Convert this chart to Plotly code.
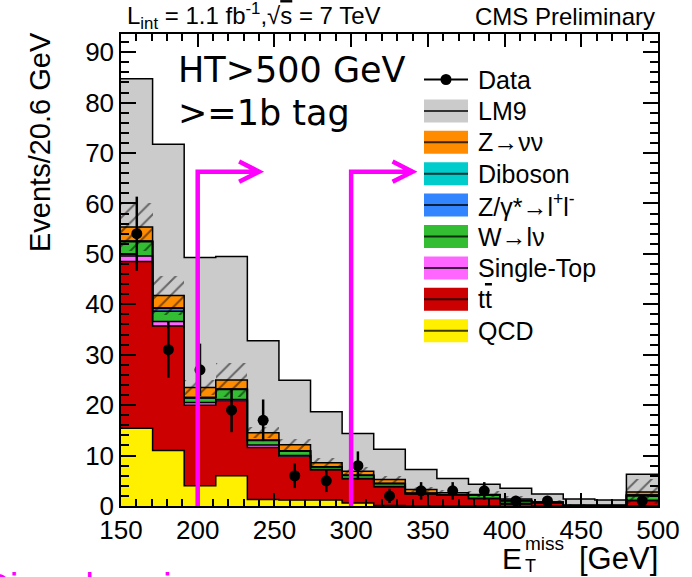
import numpy as np
import plotly.graph_objects as go

# ---- binning: 17 bins of 20.6 GeV between 150 and 500 GeV ----
met_min, met_max, n_bins = 150.0, 500.0, 17

# ---- stacked Standard Model backgrounds (events per bin) ----
qcd        = [15.4, 11.0, 4.0, 6.0, 1.3, 1.2, 1.2, 0.6, 0.1, 0.0, 0.0, 0.0, 0.2, 0.0, 0.0, 0.0, 0.0]
ttbar      = [33.1, 24.7, 16.0, 14.8, 10.3, 8.7, 6.0, 4.8, 3.7, 2.4, 2.2, 1.5, 0.3, 0.7, 0.1, 0.1, 1.1]
single_top = [1.1, 0.9, 0.5, 0.3, 0.5, 0.1, 0.05, 0.05, 0.05, 0.05, 0.0, 0.0, 0.0, 0.0, 0.0, 0.0, 0.0]
w_lnu      = [2.8, 2.0, 0.9, 2.0, 0.9, 0.9, 0.55, 0.6, 0.6, 0.1, 0.05, 0.7, 0.5, 0.0, 0.0, 0.0, 0.9]
z_ll       = [0.1, 0.6, 0.1, 0.05, 0.05, 0.0, 0.0, 0.05, 0.0, 0.0, 0.0, 0.0, 0.1, 0.0, 0.0, 0.0, 0.2]
diboson    = [0.05, 0.05, 0.0, 0.05, 0.0, 0.05, 0.0, 0.0, 0.0, 0.0, 0.0, 0.0, 0.0, 0.0, 0.0, 0.0, 0.0]
z_nunu     = [2.8, 2.5, 2.0, 1.8, 1.5, 1.2, 0.8, 0.8, 0.8, 0.7, 0.4, 0.1, 0.3, 0.1, 0.0, 0.0, 0.6]

# ---- LM9 signal stacked on top of the SM total ----
lm9 = [29.4, 30.0, 25.8, 24.5, 18.2, 12.8, 10.1, 7.5, 6.0, 4.0, 2.8, 2.0, 2.1, 1.6, 1.3, 1.1, 3.5]

# ---- uncertainty on the SM total ----
sm_unc = [4.8, 3.8, 1.5, 3.4, 1.1, 1.1, 1.0, 0.9, 0.7, 0.5, 0.5, 0.6, 0.5, 0.4, 0.3, 0.3, 2.5]

# ---- observed data ----
data = [54, 31, 27, 19, 17, 6, 5, 8, 2, 3, 3, 3, 1, 1, 0, 0, 1]

# ---- signal-region cuts on MET (GeV) ----
met_cuts = [200, 300]

components = [
    ("QCD", qcd, "#fff000"),
    ("t<span style='text-decoration:overline'>t</span>", ttbar, "#cc0000"),
    ("Single-Top", single_top, "#ff66ff"),
    ("W→lν", w_lnu, "#33bd33"),
    ("Z/γ*→l<sup>+</sup>l<sup>-</sup>", z_ll, "#3385ff"),
    ("Diboson", diboson, "#00cccc"),
    ("Z→νν", z_nunu, "#ff8c00"),
]
lm9_color = "#cbcbcb"

bin_w = (met_max - met_min) / n_bins
edges = met_min + bin_w * np.arange(n_bins + 1)
centers = edges[:-1] + bin_w / 2

FONT = "Liberation Sans, Arial, Helvetica, sans-serif"

fig = go.Figure()

# running stack
base = np.zeros(n_bins)
tops = []
for name, vals, col in components:
    vals = np.asarray(vals, float)
    tops.append((base.copy(), base + vals, col))
    base = base + vals
sm_total = base
lm9_arr = np.asarray(lm9, float)

# LM9 drawn on top of the SM total
fig.add_trace(go.Bar(x=centers, y=lm9_arr, base=sm_total, width=bin_w,
                     marker=dict(color=lm9_color, line=dict(width=0)),
                     hoverinfo="skip", showlegend=False))
for b0, b1, col in tops:
    fig.add_trace(go.Bar(x=centers, y=b1 - b0, base=b0, width=bin_w,
                         marker=dict(color=col, line=dict(width=0)),
                         hoverinfo="skip", showlegend=False))

# histogram outlines (step lines)
def step_line(vals):
    v = list(vals) + [vals[-1]]
    return go.Scatter(x=edges, y=v, mode="lines", line=dict(color="black", width=1.5, shape="hv"),
                      hoverinfo="skip", showlegend=False)

fig.add_trace(step_line(sm_total + lm9_arr))
for b0, b1, col in tops:
    fig.add_trace(step_line(b1))

# hatched uncertainty band around the SM total
unc = np.asarray(sm_unc, float)
fig.add_trace(go.Bar(x=centers, y=2 * unc, base=sm_total - unc, width=bin_w,
                     marker=dict(color="rgba(0,0,0,0)", line=dict(width=0),
                                 pattern=dict(shape="/", fgcolor="black", bgcolor="rgba(0,0,0,0)",
                                              size=10, solidity=0.2, fillmode="overlay")),
                     hoverinfo="skip", showlegend=False))

# data points with Poisson errors (empty bins not drawn)
d = np.asarray(data, float)
mask = d > 0
fig.add_trace(go.Scatter(x=centers[mask], y=d[mask], mode="markers",
                         marker=dict(color="black", size=11),
                         error_y=dict(type="data", array=np.sqrt(d[mask]), thickness=2.5, width=0, color="black"),
                         hoverinfo="skip", showlegend=False))

# ---- layout geometry (pixels) ----
W, H = 692, 577
L, R, T, B = 121, 34, 34, 71
PX0, PX1, PY0, PY1 = L, W - R, T, H - B

def xp(px):
    return (px - PX0) / (PX1 - PX0)

def yp(py):
    return (PY1 - py) / (PY1 - PY0)

shapes = []
annotations = []

# signal-region arrows
arrow_y, arrow_len, head_len, head_half = 66.3, 40.0, 13.0, 2.0
for c in met_cuts:
    tip = c + arrow_len
    shapes.append(dict(type="path", xref="x", yref="y", layer="above",
                       path=f"M {c},0 L {c},{arrow_y} L {tip},{arrow_y} "
                            f"M {tip-head_len},{arrow_y+head_half} L {tip},{arrow_y} L {tip-head_len},{arrow_y-head_half}",
                       line=dict(color="#ff00ff", width=4.5)))

# ---- legend ----
legend_rows = [("Data", None)] + [("LM9", lm9_color)] + [(n, c) for n, _, c in components[::-1]]
row_y0, row_dy = 79.5, 31.4
sw_x0, sw_x1, sw_h = 424, 468, 23
for i, (name, col) in enumerate(legend_rows):
    cy = row_y0 + i * row_dy
    if col is None:
        shapes.append(dict(type="line", xref="paper", yref="paper",
                           x0=xp(sw_x0), x1=xp(sw_x1), y0=yp(cy), y1=yp(cy),
                           line=dict(color="black", width=2)))
        shapes.append(dict(type="circle", xref="paper", yref="paper",
                           x0=xp(446 - 5.5), x1=xp(446 + 5.5), y0=yp(cy + 5.5), y1=yp(cy - 5.5),
                           fillcolor="black", line=dict(width=0)))
    else:
        shapes.append(dict(type="rect", xref="paper", yref="paper",
                           x0=xp(sw_x0), x1=xp(sw_x1), y0=yp(cy + sw_h / 2), y1=yp(cy - sw_h / 2),
                           fillcolor=col, line=dict(width=0)))
        shapes.append(dict(type="line", xref="paper", yref="paper",
                           x0=xp(sw_x0), x1=xp(sw_x1), y0=yp(cy), y1=yp(cy),
                           line=dict(color="rgba(0,0,0,0.75)", width=2)))
    annotations.append(dict(text=name, xref="paper", yref="paper", x=xp(476), y=yp(cy),
                            xanchor="left", yanchor="middle", showarrow=False,
                            font=dict(family=FONT, size=25, color="black")))

# ---- header texts ----
annotations.append(dict(text="L<sub>int</sub> = 1.1 fb<sup>-1</sup>,√<span style='text-decoration:overline'>s</span> = 7 TeV",
                        xref="paper", yref="paper", x=xp(125), y=yp(16), xanchor="left", yanchor="middle",
                        showarrow=False, font=dict(family=FONT, size=24, color="black")))
annotations.append(dict(text="CMS Preliminary", xref="paper", yref="paper", x=xp(657), y=yp(16),
                        xanchor="right", yanchor="middle", showarrow=False,
                        font=dict(family=FONT, size=24, color="black")))

# selection labels
for txt, cy in [("HT&gt;500 GeV", 70), ("&gt;=1b tag", 113)]:
    annotations.append(dict(text=txt, xref="paper", yref="paper", x=xp(176), y=yp(cy),
                            xanchor="left", yanchor="middle", showarrow=False,
                            font=dict(family="DejaVu Sans, sans-serif", size=35, color="black")))

# axis titles
annotations.append(dict(text="Events/20.6 GeV", textangle=-90, xref="paper", yref="paper",
                        x=xp(40), y=yp(142), xanchor="center", yanchor="middle", showarrow=False,
                        font=dict(family=FONT, size=29, color="black")))
annotations.append(dict(text="E", xref="paper", yref="paper", x=xp(500), y=yp(558),
                        xanchor="left", yanchor="middle", showarrow=False,
                        font=dict(family=FONT, size=30, color="black")))
annotations.append(dict(text="miss", xref="paper", yref="paper", x=xp(523), y=yp(543),
                        xanchor="left", yanchor="middle", showarrow=False,
                        font=dict(family=FONT, size=19, color="black")))
annotations.append(dict(text="T", xref="paper", yref="paper", x=xp(523), y=yp(566),
                        xanchor="left", yanchor="middle", showarrow=False,
                        font=dict(family=FONT, size=18, color="black")))
annotations.append(dict(text="[GeV]", xref="paper", yref="paper", x=xp(660), y=yp(558),
                        xanchor="right", yanchor="middle", showarrow=False,
                        font=dict(family=FONT, size=31, color="black")))

# region caption below the frame
annotations.append(dict(text="Signal region", xref="paper", yref="paper", x=xp(-19), y=yp(588),
                        xanchor="left", yanchor="middle", showarrow=False,
                        font=dict(family=FONT, size=40, color="#ff00ff")))

axis_common = dict(showline=True, linecolor="black", linewidth=1.5, mirror="ticks",
                   ticks="inside", tickcolor="black", tickwidth=1.5, showgrid=False, zeroline=False,
                   tickfont=dict(family=FONT, size=26, color="black"))

fig.update_layout(
    width=W, height=H,
    margin=dict(l=L, r=R, t=T, b=B, pad=0),
    paper_bgcolor="white", plot_bgcolor="white",
    barmode="overlay", bargap=0,
    showlegend=False,
    shapes=shapes, annotations=annotations,
    xaxis=dict(range=[met_min, met_max], tick0=150, dtick=50, ticklen=13,
               minor=dict(ticks="inside", dtick=10, ticklen=7, tickcolor="black", tickwidth=1.5),
               **axis_common),
    yaxis=dict(range=[0, 93.6], tick0=0, dtick=10, ticklen=15,
               minor=dict(ticks="inside", dtick=2, ticklen=8, tickcolor="black", tickwidth=1.5),
               **axis_common),
)

fig.write_html("out.html")
